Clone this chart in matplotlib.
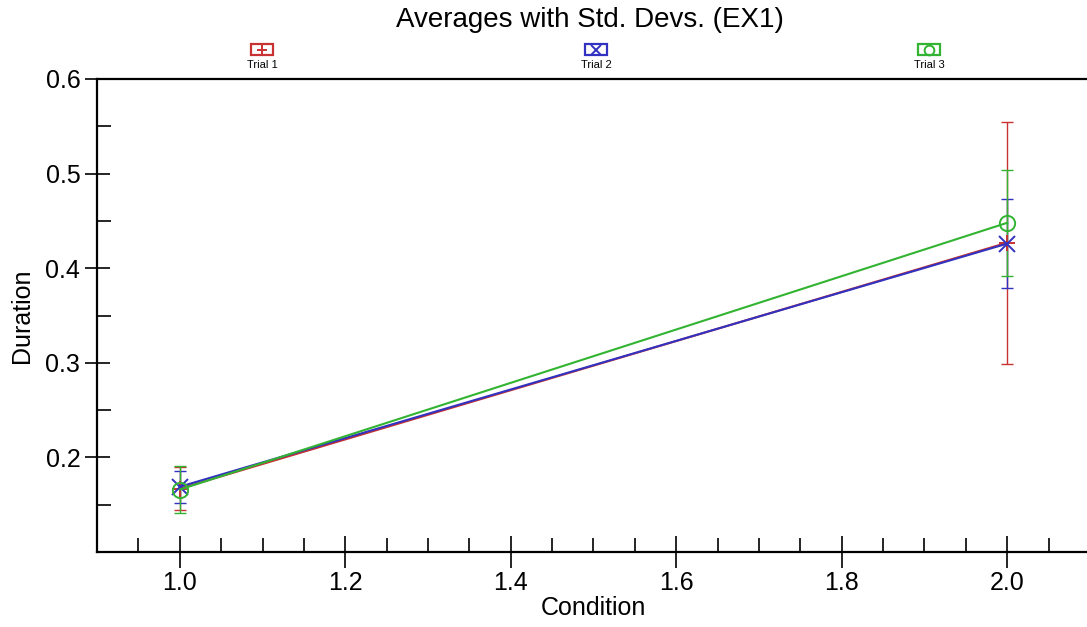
import matplotlib
matplotlib.use("Agg")
import matplotlib.pyplot as plt
from matplotlib.patches import Rectangle
from matplotlib.lines import Line2D
from matplotlib.ticker import MultipleLocator, FixedLocator, FormatStrFormatter

plt.rcParams['font.family'] = ['Liberation Sans', 'DejaVu Sans']

# ---- data ----
conditions = [1.0, 2.0]
series_names = ["Trial 1", "Trial 2", "Trial 3"]
trial1_mean = [0.167, 0.427]
trial1_std = [0.023, 0.128]
trial2_mean = [0.169, 0.426]
trial2_std = [0.017, 0.047]
trial3_mean = [0.166, 0.448]
trial3_std = [0.025, 0.056]
y_major_ticks = [0.2, 0.3, 0.4, 0.5, 0.6]
y_minor_ticks = [0.15, 0.25, 0.35, 0.45, 0.55]

colors = ['#C83232', '#3232C0', '#32B432']
markers = ['+', 'x', 'o']
means = [trial1_mean, trial2_mean, trial3_mean]
stds = [trial1_std, trial2_std, trial3_std]

W, H = 1087, 627
fig = plt.figure(figsize=(W / 100, H / 100), dpi=100)
ax = fig.add_axes([97 / W, 1 - 552 / H, (1090 - 97) / W, (552 - 79) / H])

for m, s, c in zip(means, stds, colors):
    ax.errorbar(conditions, m, yerr=s, color=c, lw=1.0, capsize=4, capthick=1.0,
                fmt='none', zorder=2)
for m, c, mk in zip(means, colors, markers):
    ax.plot(conditions, m, color=c, lw=1.5, marker=mk, markersize=11,
            markerfacecolor='none', markeredgecolor=c, markeredgewidth=1.4, zorder=3)

ax.set_xlim(0.9, 2.1)
ax.set_ylim(0.1, 0.6)
ax.xaxis.set_major_locator(MultipleLocator(0.2))
ax.xaxis.set_minor_locator(MultipleLocator(0.05))
ax.yaxis.set_major_locator(FixedLocator(y_major_ticks))
ax.yaxis.set_minor_locator(FixedLocator(y_minor_ticks))
ax.xaxis.set_major_formatter(FormatStrFormatter('%.1f'))
ax.yaxis.set_major_formatter(FormatStrFormatter('%.1f'))

ax.spines['right'].set_visible(False)
for sp in ['left', 'bottom', 'top']:
    ax.spines[sp].set_linewidth(1.6)
ax.tick_params(axis='x', which='major', direction='inout', length=23, width=1.2,
               labelsize=18, pad=2, top=False)
ax.tick_params(axis='y', which='major', direction='inout', length=18, width=1.2,
               labelsize=18, pad=3, right=False)
ax.tick_params(axis='both', which='minor', direction='in', length=10, width=1.2,
               top=False, right=False)

ax.set_xlabel("Condition", fontsize=18, labelpad=1)
ax.set_ylabel("Duration", fontsize=18, labelpad=8)
fig.text(590 / W, 1 - 20 / H, "Averages with Std. Devs. (EX1)", ha='center', va='center',
         fontsize=20)

# legend entries across the top
leg_x = [262, 596, 929]
for name, c, mk, lx in zip(series_names, colors, markers, leg_x):
    fig.add_artist(Rectangle(((lx - 11) / W, 1 - 55 / H), 22 / W, 11 / H,
                             transform=fig.transFigure, fill=False, edgecolor=c, lw=1.6))
    fig.add_artist(Line2D([lx / W], [1 - 50 / H], transform=fig.transFigure, marker=mk,
                          markersize=7, markerfacecolor='none', markeredgecolor=c,
                          markeredgewidth=1.4, linestyle='none'))
    fig.text(lx / W, 1 - 65 / H, name, ha='center', va='center', fontsize=8)

fig.savefig("out.png", dpi=100)
